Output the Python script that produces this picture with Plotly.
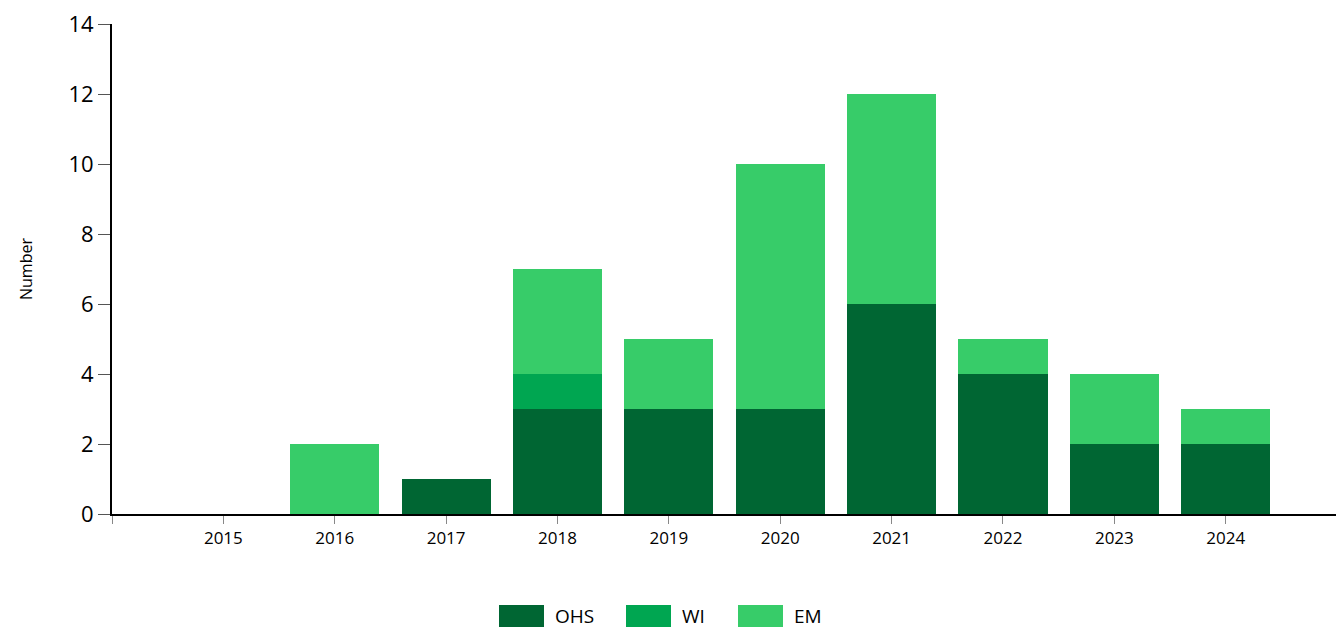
import plotly.graph_objects as go

years = [2015, 2016, 2017, 2018, 2019, 2020, 2021, 2022, 2023, 2024]
ohs = [0, 0, 1, 3, 3, 3, 6, 4, 2, 2]
wi = [0, 0, 0, 1, 0, 0, 0, 0, 0, 0]
em = [0, 2, 0, 3, 2, 7, 6, 1, 2, 1]

series = [("OHS", ohs, "#006633"), ("WI", wi, "#00A651"), ("EM", em, "#37CC69")]

FONT = "Open Sans"
W, H = 1336, 630
L, T, B = 112, 24, 514
PW, PH = W - L, B - T

fig = go.Figure()
for name, vals, col in series:
    fig.add_trace(go.Bar(x=years, y=vals, name=name, marker=dict(color=col, line=dict(width=0)),
                         width=0.8, showlegend=False))

tickvals = [2014] + years
ticktext = [""] + [str(y) for y in years]

fig.update_layout(
    barmode="stack",
    width=W, height=H,
    margin=dict(l=L, r=0, t=T, b=H - B),
    plot_bgcolor="white", paper_bgcolor="white",
    font=dict(family=FONT, color="#000000"),
    xaxis=dict(range=[2014, 2024.99], tickvals=tickvals, ticktext=ticktext,
               showgrid=False, zeroline=False, showline=True, linecolor="#000000", linewidth=2,
               ticks="outside", ticklen=8, tickcolor="#888888", tickwidth=1,
               tickfont=dict(size=17, family=FONT)),
    yaxis=dict(range=[0, 14], tickvals=[0, 2, 4, 6, 8, 10, 12, 14], showgrid=False, zeroline=False,
               showline=True, linecolor="#000000", linewidth=2, ticks="outside", ticklen=12,
               tickcolor="#555555", tickwidth=1, tickfont=dict(size=22, family=FONT),
               title=dict(text="Number", font=dict(size=16, family=FONT), standoff=32)),
)

# custom legend
legend_x = [499, 626, 738]
for (name, vals, col), lx in zip(series, legend_x):
    fig.add_shape(type="rect", xref="paper", yref="paper",
                  x0=(lx - L) / PW, x1=(lx + 45 - L) / PW,
                  y0=-(605 - B) / PH, y1=-(627 - B) / PH,
                  fillcolor=col, line=dict(width=0))
    fig.add_annotation(text=name, xref="paper", yref="paper",
                       x=(lx + 54 - L) / PW, y=-(616 - B) / PH,
                       xanchor="left", yanchor="middle", showarrow=False,
                       font=dict(size=19, family=FONT, color="#000000"))

fig.write_html("out.html", config={"displayModeBar": False},
               post_script="document.body.style.margin='0';document.body.style.overflow='hidden';")
